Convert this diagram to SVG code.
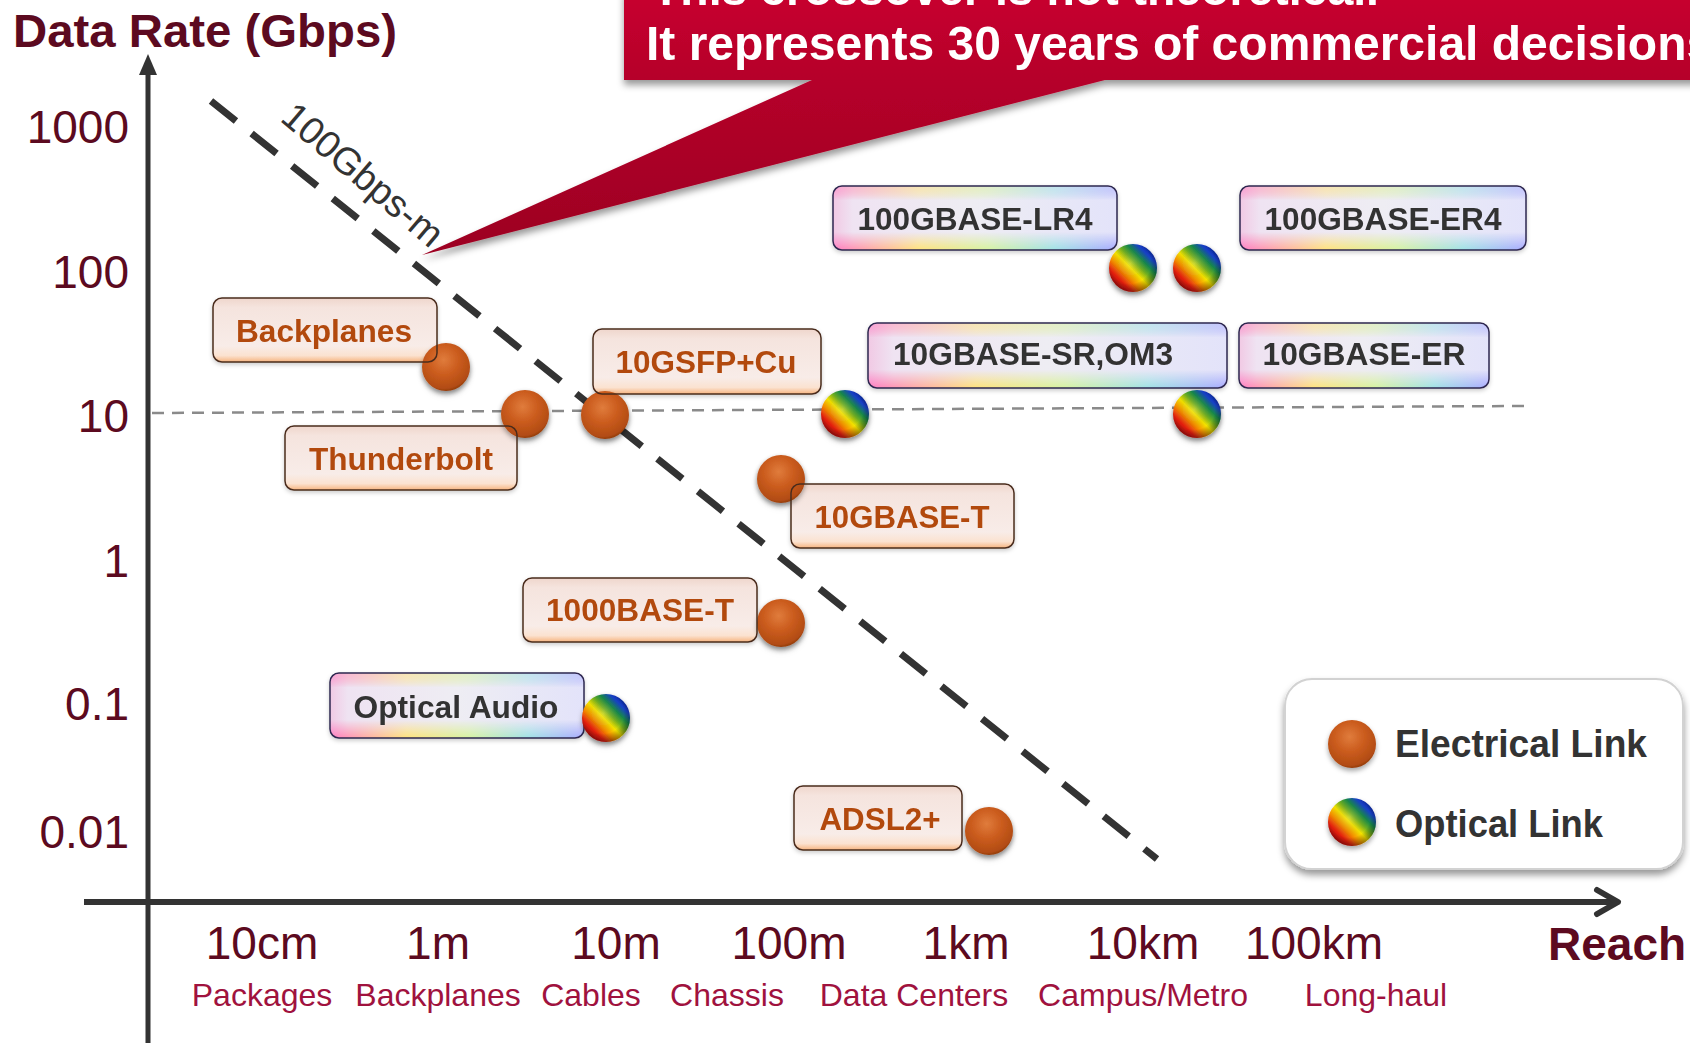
<svg xmlns="http://www.w3.org/2000/svg" width="1690" height="1043" viewBox="0 0 1690 1043">
  <defs>
    <style>
      .lbl { font-family: "Liberation Sans", Arial, sans-serif; }
      .axisnum { font-family: "Liberation Sans", Arial, sans-serif; font-size: 46px; fill: #5c0a20; }
      .sub { font-family: "Liberation Sans", Arial, sans-serif; font-size: 32px; fill: #a0123e; text-anchor: middle; }
      .etext { font-family: "Liberation Sans", Arial, sans-serif; font-size: 32px; font-weight: bold; fill: #b24a10; text-anchor: middle; }
      .otext { font-family: "Liberation Sans", Arial, sans-serif; font-size: 32px; font-weight: bold; fill: #333333; text-anchor: middle; }
      .ebox { fill: url(#elecBox); stroke: none; }
      .eedge { fill: none; stroke: #4a2c1c; stroke-width: 1.5; }
      .obox { fill: url(#optBox); stroke: none; }
      .orain { fill: url(#rainbowH); mask: url(#edgeMask); }
      .oedge { fill: none; stroke: #2e2850; stroke-width: 1.5; }
      .eball { fill: url(#elecBall); filter: url(#ballShadow); }
      .oball { fill: url(#optBall); filter: url(#ballShadow); }
      .oshade { fill: url(#ballShade); }
    </style>

    <!-- electrical marker: copper sphere -->
    <radialGradient id="elecBall" cx="0.45" cy="0.35" r="0.7">
      <stop offset="0" stop-color="#e07c3c"/>
      <stop offset="0.45" stop-color="#cb5c1e"/>
      <stop offset="0.85" stop-color="#b24c13"/>
      <stop offset="1" stop-color="#7a3008"/>
    </radialGradient>

    <!-- optical marker: rainbow sphere -->
    <linearGradient id="optBall" x1="0.1" y1="0.9" x2="0.9" y2="0.1">
      <stop offset="0" stop-color="#a00000"/>
      <stop offset="0.18" stop-color="#e42010"/>
      <stop offset="0.33" stop-color="#f59000"/>
      <stop offset="0.47" stop-color="#f6e400"/>
      <stop offset="0.6" stop-color="#70b020"/>
      <stop offset="0.72" stop-color="#178a48"/>
      <stop offset="0.86" stop-color="#1540c8"/>
      <stop offset="1" stop-color="#0a1a8a"/>
    </linearGradient>
    <radialGradient id="ballShade" cx="0.45" cy="0.4" r="0.6">
      <stop offset="0" stop-color="#ffffff" stop-opacity="0.15"/>
      <stop offset="0.7" stop-color="#000000" stop-opacity="0"/>
      <stop offset="1" stop-color="#000000" stop-opacity="0.35"/>
    </radialGradient>

    <!-- label box fills -->
    <linearGradient id="elecBox" x1="0" y1="0" x2="0" y2="1">
      <stop offset="0" stop-color="#efd6cc"/>
      <stop offset="0.15" stop-color="#f5e4de"/>
      <stop offset="0.75" stop-color="#f8ece8"/>
      <stop offset="0.9" stop-color="#fbe2d0"/>
      <stop offset="1" stop-color="#f6b47f"/>
    </linearGradient>
    <linearGradient id="optBox" x1="0" y1="0" x2="1" y2="0">
      <stop offset="0" stop-color="#f1c9e4"/>
      <stop offset="0.07" stop-color="#efe3f2"/>
      <stop offset="0.5" stop-color="#eeedf3"/>
      <stop offset="1" stop-color="#e3e3fa"/>
    </linearGradient>
    <linearGradient id="rainbowH" x1="0" y1="0" x2="1" y2="0">
      <stop offset="0" stop-color="#ff7cc4"/>
      <stop offset="0.3" stop-color="#ffe27a"/>
      <stop offset="0.55" stop-color="#d4f2a0"/>
      <stop offset="0.78" stop-color="#9fe2e4"/>
      <stop offset="1" stop-color="#a8a8ff"/>
    </linearGradient>
    <linearGradient id="edgeFade" x1="0" y1="0" x2="0" y2="1">
      <stop offset="0" stop-color="#ffffff" stop-opacity="0.5"/>
      <stop offset="0.22" stop-color="#000000"/>
      <stop offset="0.72" stop-color="#000000"/>
      <stop offset="1" stop-color="#ffffff"/>
    </linearGradient>
    <mask id="edgeMask" maskContentUnits="objectBoundingBox">
      <rect x="0" y="0" width="1" height="1" fill="url(#edgeFade)"/>
    </mask>

    <!-- callout fill -->
    <linearGradient id="calloutFill" gradientUnits="userSpaceOnUse" x1="0" y1="0" x2="0" y2="255">
      <stop offset="0" stop-color="#c6002f"/>
      <stop offset="0.3" stop-color="#b6002a"/>
      <stop offset="1" stop-color="#9c0022"/>
    </linearGradient>

    <filter id="ballShadow" x="-30%" y="-30%" width="160%" height="170%">
      <feDropShadow dx="0" dy="3" stdDeviation="2.5" flood-color="#000" flood-opacity="0.35"/>
    </filter>
    <filter id="boxShadow" x="-10%" y="-20%" width="120%" height="150%">
      <feDropShadow dx="0" dy="2" stdDeviation="2" flood-color="#000" flood-opacity="0.2"/>
    </filter>
    <filter id="bigShadow" x="-10%" y="-20%" width="120%" height="150%">
      <feDropShadow dx="0" dy="5" stdDeviation="3.5" flood-color="#000" flood-opacity="0.4"/>
    </filter>
  </defs>

  <rect x="0" y="0" width="1690" height="1043" fill="#ffffff"/>

  <!-- axes -->
  <g id="axes">
    <text class="lbl" x="13" y="47" font-size="46" font-weight="bold" fill="#5c0a20" textLength="384" lengthAdjust="spacingAndGlyphs">Data Rate (Gbps)</text>
    <line x1="148" y1="70" x2="148" y2="1043" stroke="#333" stroke-width="5"/>
    <polygon points="148,54 139,75 157,75" fill="#333"/>
    <line x1="84" y1="902" x2="1616" y2="902" stroke="#333" stroke-width="6"/>
    <polyline points="1597,890 1618,902 1597,914" fill="none" stroke="#333" stroke-width="6" stroke-linecap="round" stroke-linejoin="round"/>

    <g text-anchor="end">
      <text class="axisnum" x="129" y="143">1000</text>
      <text class="axisnum" x="129" y="288">100</text>
      <text class="axisnum" x="129" y="432">10</text>
      <text class="axisnum" x="129" y="577">1</text>
      <text class="axisnum" x="129" y="720">0.1</text>
      <text class="axisnum" x="129" y="848">0.01</text>
    </g>

    <g text-anchor="middle">
      <text class="axisnum" x="262" y="959">10cm</text>
      <text class="axisnum" x="438" y="959">1m</text>
      <text class="axisnum" x="616" y="959">10m</text>
      <text class="axisnum" x="789" y="959">100m</text>
      <text class="axisnum" x="966" y="959">1km</text>
      <text class="axisnum" x="1143" y="959">10km</text>
      <text class="axisnum" x="1314" y="959">100km</text>
    </g>
    <text class="lbl" x="1548" y="960" font-size="46" font-weight="bold" fill="#5c0a20">Reach</text>

    <text class="sub" x="262" y="1006">Packages</text>
    <text class="sub" x="438" y="1006">Backplanes</text>
    <text class="sub" x="591" y="1006">Cables</text>
    <text class="sub" x="727" y="1006">Chassis</text>
    <text class="sub" x="914" y="1006">Data Centers</text>
    <text class="sub" x="1143" y="1006">Campus/Metro</text>
    <text class="sub" x="1376" y="1006">Long-haul</text>
  </g>

  <!-- guide lines: 10 Gbps level and the 100 Gbps·m bandwidth-distance limit -->
  <g id="guides">
    <line x1="152" y1="413" x2="1525" y2="406" stroke="#8a8a8a" stroke-width="2.5" stroke-dasharray="12 8"/>
    <line x1="211" y1="101" x2="1157" y2="859" stroke="#333" stroke-width="7" stroke-dasharray="32 20"/>
    <text class="lbl" transform="translate(279,120) rotate(40.5)" font-size="38" fill="#333">100Gbps-m</text>
  </g>

  <!-- links -->
  <g id="node-backplanes" filter="url(#boxShadow)">
    <rect class="ebox" x="213" y="298" width="224" height="64" rx="9"/>
    <circle class="eball" cx="446" cy="367" r="24"/>
    <rect class="eedge" x="213" y="298" width="224" height="64" rx="9"/>
    <text class="etext" x="324" y="342" textLength="176" lengthAdjust="spacingAndGlyphs">Backplanes</text>
  </g>

  <g id="node-thunderbolt" filter="url(#boxShadow)">
    <rect class="ebox" x="285" y="426" width="232" height="64" rx="9"/>
    <circle class="eball" cx="525" cy="414" r="24"/>
    <rect class="eedge" x="285" y="426" width="232" height="64" rx="9"/>
    <text class="etext" x="401" y="470" textLength="184" lengthAdjust="spacingAndGlyphs">Thunderbolt</text>
  </g>

  <g id="node-10gsfp-cu" filter="url(#boxShadow)">
    <rect class="ebox" x="593" y="329" width="228" height="65" rx="9"/>
    <circle class="eball" cx="605" cy="415" r="24"/>
    <rect class="eedge" x="593" y="329" width="228" height="65" rx="9"/>
    <text class="etext" x="706" y="373" textLength="181" lengthAdjust="spacingAndGlyphs">10GSFP+Cu</text>
  </g>

  <g id="node-10gbase-t" filter="url(#boxShadow)">
    <rect class="ebox" x="791" y="484" width="223" height="64" rx="9"/>
    <circle class="eball" cx="781" cy="479" r="24"/>
    <rect class="eedge" x="791" y="484" width="223" height="64" rx="9"/>
    <text class="etext" x="902" y="528" textLength="175" lengthAdjust="spacingAndGlyphs">10GBASE-T</text>
  </g>

  <g id="node-1000base-t" filter="url(#boxShadow)">
    <rect class="ebox" x="523" y="578" width="234" height="64" rx="9"/>
    <circle class="eball" cx="781" cy="623" r="24"/>
    <rect class="eedge" x="523" y="578" width="234" height="64" rx="9"/>
    <text class="etext" x="640" y="621" textLength="188" lengthAdjust="spacingAndGlyphs">1000BASE-T</text>
  </g>

  <g id="node-adsl2plus" filter="url(#boxShadow)">
    <rect class="ebox" x="794" y="786" width="168" height="64" rx="9"/>
    <circle class="eball" cx="989" cy="831" r="24"/>
    <rect class="eedge" x="794" y="786" width="168" height="64" rx="9"/>
    <text class="etext" x="880" y="830" textLength="121" lengthAdjust="spacingAndGlyphs">ADSL2+</text>
  </g>

  <g id="node-optical-audio" filter="url(#boxShadow)">
    <rect class="obox" x="330" y="673" width="254" height="65" rx="9"/>
    <rect class="orain" x="330" y="673" width="254" height="65" rx="9"/>
    <rect class="oedge" x="330" y="673" width="254" height="65" rx="9"/>
    <circle class="oball" cx="606" cy="718" r="24"/>
    <circle class="oshade" cx="606" cy="718" r="24"/>
    <text class="otext" x="456" y="718" textLength="205" lengthAdjust="spacingAndGlyphs">Optical Audio</text>
  </g>

  <g id="node-100gbase-lr4" filter="url(#boxShadow)">
    <rect class="obox" x="833" y="186" width="284" height="64" rx="9"/>
    <rect class="orain" x="833" y="186" width="284" height="64" rx="9"/>
    <rect class="oedge" x="833" y="186" width="284" height="64" rx="9"/>
    <circle class="oball" cx="1133" cy="268" r="24"/>
    <circle class="oshade" cx="1133" cy="268" r="24"/>
    <text class="otext" x="975" y="230" textLength="235" lengthAdjust="spacingAndGlyphs">100GBASE-LR4</text>
  </g>

  <g id="node-100gbase-er4" filter="url(#boxShadow)">
    <rect class="obox" x="1240" y="186" width="286" height="64" rx="9"/>
    <rect class="orain" x="1240" y="186" width="286" height="64" rx="9"/>
    <rect class="oedge" x="1240" y="186" width="286" height="64" rx="9"/>
    <circle class="oball" cx="1197" cy="268" r="24"/>
    <circle class="oshade" cx="1197" cy="268" r="24"/>
    <text class="otext" x="1383" y="230" textLength="237" lengthAdjust="spacingAndGlyphs">100GBASE-ER4</text>
  </g>

  <g id="node-10gbase-sr-om3" filter="url(#boxShadow)">
    <rect class="obox" x="868" y="323" width="359" height="65" rx="9"/>
    <rect class="orain" x="868" y="323" width="359" height="65" rx="9"/>
    <rect class="oedge" x="868" y="323" width="359" height="65" rx="9"/>
    <circle class="oball" cx="845" cy="414" r="24"/>
    <circle class="oshade" cx="845" cy="414" r="24"/>
    <text class="otext" x="1033" y="365" textLength="280" lengthAdjust="spacingAndGlyphs">10GBASE-SR,OM3</text>
  </g>

  <g id="node-10gbase-er" filter="url(#boxShadow)">
    <rect class="obox" x="1239" y="323" width="250" height="65" rx="9"/>
    <rect class="orain" x="1239" y="323" width="250" height="65" rx="9"/>
    <rect class="oedge" x="1239" y="323" width="250" height="65" rx="9"/>
    <circle class="oball" cx="1197" cy="414" r="24"/>
    <circle class="oshade" cx="1197" cy="414" r="24"/>
    <text class="otext" x="1364" y="365" textLength="203" lengthAdjust="spacingAndGlyphs">10GBASE-ER</text>
  </g>

  <!-- connectors: none besides the guides above -->
  <g id="connectors"/>

  <!-- legend -->
  <g id="legend">
    <rect x="1285" y="679" width="398" height="190" rx="27" fill="#ffffff" stroke="#d2d2d2" stroke-width="2" filter="url(#bigShadow)"/>
    <circle class="eball" cx="1352" cy="744" r="24"/>
    <text class="lbl" x="1395" y="757" font-size="39" font-weight="bold" fill="#333" textLength="252" lengthAdjust="spacingAndGlyphs">Electrical Link</text>
    <circle class="oball" cx="1352" cy="822" r="24"/>
    <circle class="oshade" cx="1352" cy="822" r="24"/>
    <text class="lbl" x="1395" y="837" font-size="39" font-weight="bold" fill="#333" textLength="208" lengthAdjust="spacingAndGlyphs">Optical Link</text>
  </g>

  <!-- callout -->
  <g id="callout">
    <path d="M624,-10 H1700 V80 H1105 L422,255 L812,80 H624 Z" fill="url(#calloutFill)" filter="url(#bigShadow)"/>
    <text class="lbl" x="652" y="5" font-size="48" font-weight="bold" fill="#ffffff" textLength="727" lengthAdjust="spacingAndGlyphs">This crossover is not theoretical.</text>
    <text class="lbl" x="646" y="60" font-size="48" font-weight="bold" fill="#ffffff">It represents 30 years of commercial decisions</text>
  </g>
</svg>
